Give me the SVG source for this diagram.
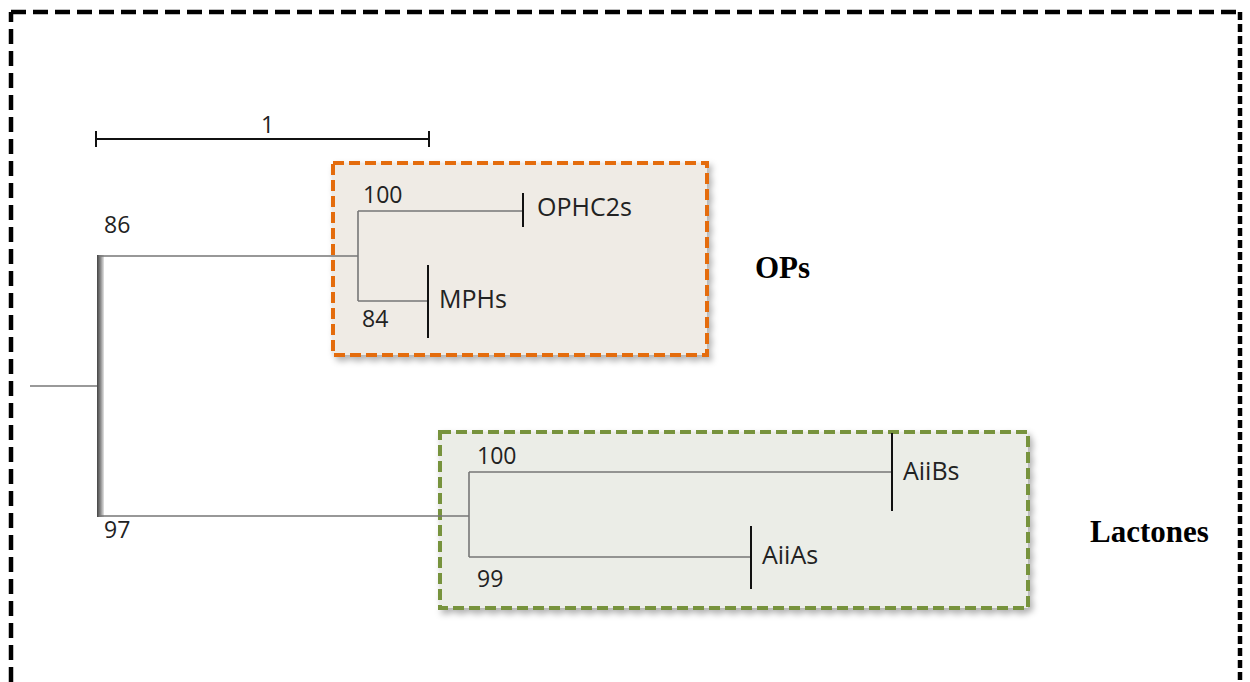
<svg xmlns="http://www.w3.org/2000/svg" width="1250" height="682" viewBox="0 0 1250 682">
<defs>
<style>
.lbl{font-family:"Open Sans","Liberation Sans",sans-serif;fill:#222;}
.num{font-size:23px;}
.name{font-size:25px;}
.grp{font-family:"Liberation Serif","Times New Roman",serif;font-weight:bold;font-size:31px;fill:#000;}
.br{stroke:#777;stroke-width:1.6;fill:none;}
.tick{stroke:#111;stroke-width:2;fill:none;}
</style>
<linearGradient id="vg" x1="0" y1="0" x2="1" y2="0">
<stop offset="0" stop-color="#444"/>
<stop offset="0.5" stop-color="#888"/>
<stop offset="1" stop-color="#e4e4e4"/>
</linearGradient>
<filter id="sh" x="-5%" y="-5%" width="112%" height="115%">
<feDropShadow dx="3" dy="4" stdDeviation="3" flood-color="#000" flood-opacity="0.3"/>
</filter>
</defs>
<rect width="1250" height="682" fill="#fff"/>
<g id="frame" fill="none" stroke="#000" stroke-width="4.5">
<path d="M11 682 V12" stroke-dasharray="15 7"/>
<path d="M11 12 H1240" stroke-dasharray="15 7"/>
<path d="M1240 12 V682" stroke-dasharray="8 4"/>
</g>
<g id="scalebar">
<path class="tick" d="M96 139 H429 M96 131 V147 M429 131 V147"/>
<text class="lbl num" x="261" y="133">1</text>
</g>
<g id="box-ops">
<rect x="333" y="163" width="374" height="192" fill="#efebe5" stroke="#e46c0a" stroke-width="4" stroke-dasharray="11 5" filter="url(#sh)"/>
</g>
<g id="box-lactones">
<rect x="440" y="432" width="588" height="176" fill="#ebede7" stroke="#77933c" stroke-width="4" stroke-dasharray="11 5" filter="url(#sh)"/>
</g>
<g id="connectors">
<path class="br" d="M30 386 H100"/>
<rect x="97" y="255" width="7" height="262" fill="url(#vg)"/>
<path class="br" d="M100 256 H358 M100 516 H469"/>
<path class="br" d="M358 211 V301 M358 211 H523 M358 301 H428"/>
<path class="br" d="M469 472 V557 M469 472 H892 M469 557 H751"/>
</g>
<g id="node-86"><text class="lbl num" x="104" y="233">86</text></g>
<g id="node-97"><text class="lbl num" x="104" y="538">97</text></g>
<g id="node-100a"><text class="lbl num" x="363" y="203">100</text></g>
<g id="node-84"><text class="lbl num" x="362" y="327">84</text></g>
<g id="node-100b"><text class="lbl num" x="477" y="464">100</text></g>
<g id="node-99"><text class="lbl num" x="477" y="587">99</text></g>
<g id="leaf-ophc2s">
<path class="tick" d="M523 193 V227"/>
<text class="lbl name" x="537" y="216">OPHC2s</text>
</g>
<g id="leaf-mphs">
<path class="tick" d="M428 265 V338"/>
<text class="lbl name" x="439" y="308">MPHs</text>
</g>
<g id="leaf-aiibs">
<path class="tick" d="M892 433 V511"/>
<text class="lbl name" x="903" y="480">AiiBs</text>
</g>
<g id="leaf-aiias">
<path class="tick" d="M751 526 V589"/>
<text class="lbl name" x="762" y="564">AiiAs</text>
</g>
<g id="label-ops"><text class="grp" x="755" y="278">OPs</text></g>
<g id="label-lactones"><text class="grp" x="1090" y="542">Lactones</text></g>
</svg>
